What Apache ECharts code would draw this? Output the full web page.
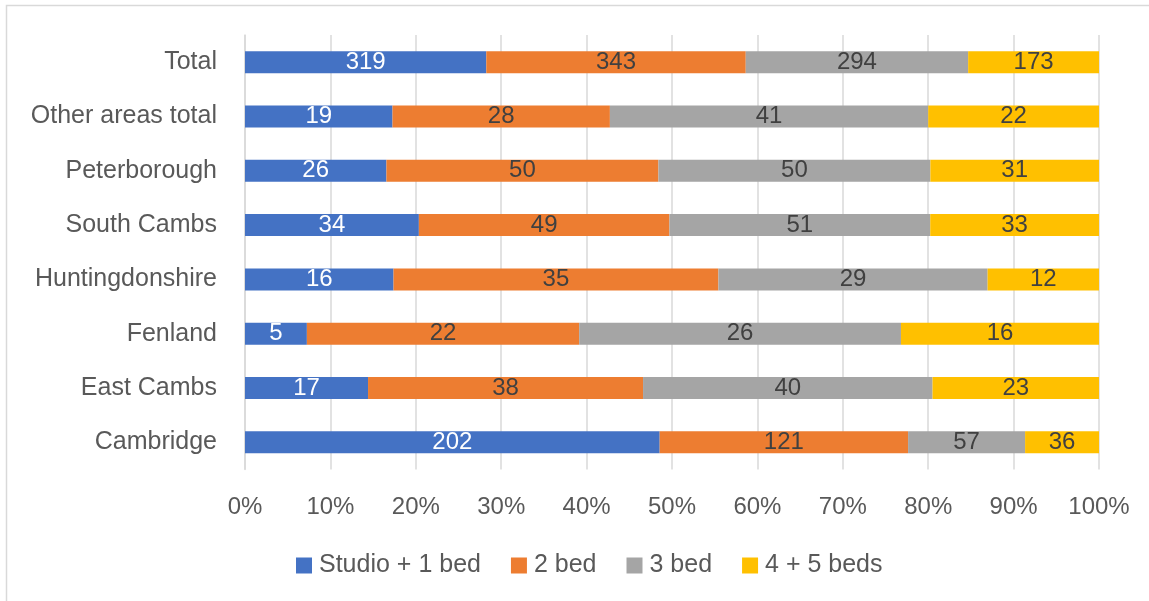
<!DOCTYPE html>
<html><head><meta charset="utf-8">
<script src="https://cdn.jsdelivr.net/npm/echarts@6/dist/echarts.min.js"></script>
<style>html,body{margin:0;padding:0;background:#fff}#c{width:1149px;height:601px}</style>
</head><body><div id="c"></div>
<script>
const categories = ['Cambridge','East Cambs','Fenland','Huntingdonshire','South Cambs','Peterborough','Other areas total','Total'];
const studio1 = [202,17,5,16,34,26,19,319];
const bed2 = [121,38,22,35,49,50,28,343];
const bed3 = [57,40,26,29,51,50,41,294];
const bed45 = [36,23,16,12,33,31,22,173];
const seriesNames = ['Studio + 1 bed','2 bed','3 bed','4 + 5 beds'];
const colors = ['#4472C4','#ED7D31','#A5A5A5','#FFC000'];
const tickLabels = ['0%','10%','20%','30%','40%','50%','60%','70%','80%','90%','100%'];

const all = [studio1, bed2, bed3, bed45];
const totals = categories.map((_, i) => all.reduce((s, a) => s + a[i], 0));
const font = 'Liberation Sans';
const chart = echarts.init(document.getElementById('c'));
chart.setOption({
  animation: false,
  textStyle: {fontFamily: font},
  graphic: [{type:'rect', shape:{x:6.5,y:5.5,width:1200,height:700}, style:{fill:'none', stroke:'#d9d9d9', lineWidth:1.5}}],
  grid: {left:245, right:50, top:35, bottom:131.5, containLabel:false},
  xAxis: {type:'value', min:0, max:1, interval:0.1,
    axisLabel:{formatter:(v)=>tickLabels[Math.round(v*10)], color:'#595959', fontSize:24, margin:26, fontFamily:font},
    splitLine:{lineStyle:{color:'#d9d9d9', width:1.5}}, axisLine:{show:false}, axisTick:{show:false}},
  yAxis: {type:'category', data:categories,
    axisLabel:{color:'#595959', fontSize:25, margin:28, fontFamily:font},
    axisLine:{lineStyle:{color:'#d9d9d9', width:1.5}}, axisTick:{show:false}},
  legend: {top:548, left:291, itemWidth:16, itemHeight:16, itemGap:30, icon:'rect',
    textStyle:{color:'#595959', fontSize:25, fontFamily:font, padding:[0,0,0,2]}, data:seriesNames},
  series: all.map((arr, k) => ({
    name: seriesNames[k], type:'bar', stack:'s', barWidth:22,
    itemStyle:{color:colors[k]},
    label:{show:true, position:'inside', formatter:(p)=>arr[p.dataIndex], color:k===0?'#ffffff':'#404040', fontSize:24, fontFamily:font},
    data: arr.map((v,i)=>v/totals[i])
  }))
});
</script></body></html>
